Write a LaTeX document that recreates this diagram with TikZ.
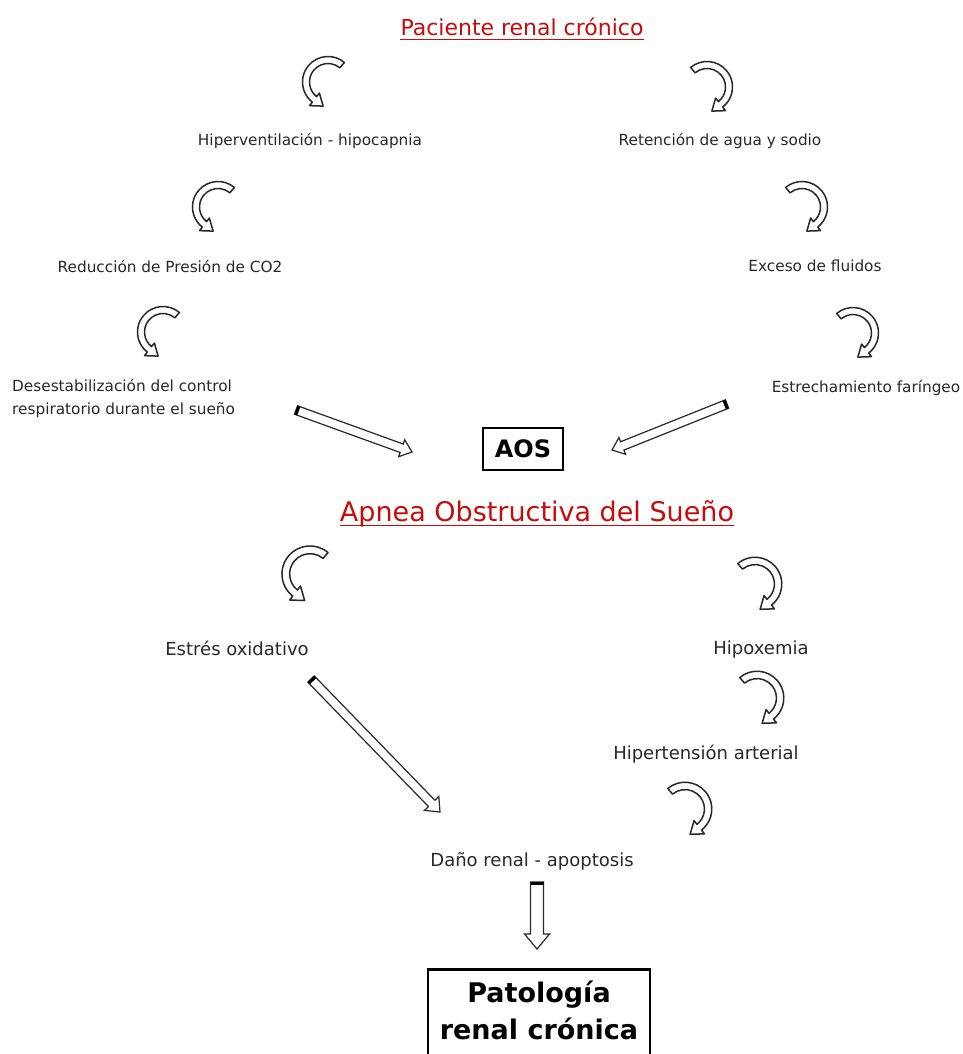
\documentclass[tikz,border=0pt]{standalone}
\usepackage{fontspec}
\setmainfont{DejaVu Sans}
\usetikzlibrary{calc}
\definecolor{titlered}{RGB}{200,12,12}
\definecolor{ink}{RGB}{40,40,40}
\tikzset{
  lbl/.style={font=\fontsize{15.3}{23}\selectfont, text=ink, inner sep=0pt},
  lblb/.style={font=\fontsize{18}{23}\selectfont, text=ink, inner sep=0pt},
  ttl/.style={font=\fontsize{#1}{#1}\selectfont, text=titlered, inner sep=0pt},
  uline/.style={draw=titlered, line width=1.6pt},
  boxed/.style={draw=black, line width=2.5pt, text=black, font=\bfseries\fontsize{#1}{37}\selectfont, align=center},
  curveline/.style={draw=ink, line width=1.5pt, fill=white, line join=round},
  blockline/.style={draw=ink, line width=1.2pt, fill=white, line join=miter},
  carrow/.pic={
    \begin{scope}[yscale=-1]
      \draw[curveline] (50:25.5) arc[start angle=50,end angle=232,radius=25.5]
        -- (232:30) -- ($(232:22)+(322:11)$) -- (232:14) -- (232:18.5)
        arc[start angle=232,end angle=50,radius=18.5] -- cycle;
    \end{scope}
  }
}
% tail, head, shaft half width, head half width, head length
\newcommand\blockarr[5]{%
  \draw[blockline] ($(#1)!#3!-90:(#2)$) -- ($(#2)!#5!(#1)!#3!90:(#1)$)
    -- ($(#2)!#5!(#1)!#4!90:(#1)$) -- (#2) -- ($(#2)!#5!(#1)!#4!-90:(#1)$)
    -- ($(#2)!#5!(#1)!#3!-90:(#1)$) -- ($(#1)!#3!90:(#2)$) -- cycle;
  \draw[black, line width=3pt] ($(#1)!1.5pt!(#2)!#3!-90:(#2)$) -- ($(#1)!1.5pt!(#2)!#3!90:(#2)$);
}
\begin{document}
\begin{tikzpicture}[x=1pt,y=-1pt]
\useasboundingbox (0,0) rectangle (963,1054);
\fill[white] (0,0) rectangle (963,1054);

% titles
\node[ttl=22] (t1) at (522,27) {Paciente renal crónico};
\draw[uline] ([yshift=-4pt]t1.base west) -- ([yshift=-4pt]t1.base east);

\node[lbl] (hiper) at (310,141) {Hiperventilación - hipocapnia};
\node[lbl] (reten) at (720,141) {Retención de agua y sodio};
\node[lbl] (reduc) at (170,266) {Reducción de Presión de CO2};
\node[lbl] (exceso) at (815,266) {Exceso de fluidos};
\node[lbl, anchor=west, align=left] (desest) at (12,398) {Desestabilización del control\\respiratorio durante el sueño};
\node[lbl] (estrech) at (866,388) {Estrechamiento faríngeo};

\node[boxed=24, minimum width=80pt, minimum height=42pt, inner sep=0pt] (aos) at (523,449) {AOS};

\node[ttl=27] (apnea) at (537,514) {Apnea Obstructiva del Sueño};
\draw[uline] ([yshift=-4pt]apnea.base west) -- ([yshift=-4pt]apnea.base east);

\node[lblb] (estres) at (237,648) {Estrés oxidativo};
\node[lblb] (hipox) at (761,650) {Hipoxemia};
\node[lblb] (hipert) at (706,754) {Hipertensión arterial};
\node[lblb] (dano) at (532,861) {Daño renal - apoptosis};

\node[boxed=27, anchor=north, minimum width=222pt, inner xsep=6pt, inner ysep=12pt] (patol) at (539,968) {Patología\\renal crónica\\\mbox{}};

% curved arrows
\pic at (328,82) {carrow};
\pic[xscale=-1] at (707,87) {carrow};
\pic at (218,207) {carrow};
\pic[xscale=-1] at (802,207) {carrow};
\pic at (163,332) {carrow};
\pic[xscale=-1] at (853,333) {carrow};
\pic[scale=1.1] at (310,574) {carrow};
\pic[xscale=-1.05,yscale=1.05] at (755,584) {carrow};
\pic[xscale=-1.05,yscale=1.05] at (757,698) {carrow};
\pic[xscale=-1.05,yscale=1.05] at (685,809) {carrow};

% block arrows
\coordinate (la1) at (296,410);
\coordinate (la2) at (412,452);
\coordinate (ra1) at (727,404);
\coordinate (ra2) at (612,450);
\coordinate (ea1) at (311,679);
\coordinate (ea2) at (440,812);
\coordinate (da1) at (537,882);
\coordinate (da2) at (537,949);
\blockarr{la1}{la2}{4.5pt}{9pt}{11pt}
\blockarr{ra1}{ra2}{4.5pt}{9pt}{11pt}
\blockarr{ea1}{ea2}{4.5pt}{10pt}{12pt}
\blockarr{da1}{da2}{6.5pt}{12.5pt}{15pt}
\end{tikzpicture}
\end{document}
